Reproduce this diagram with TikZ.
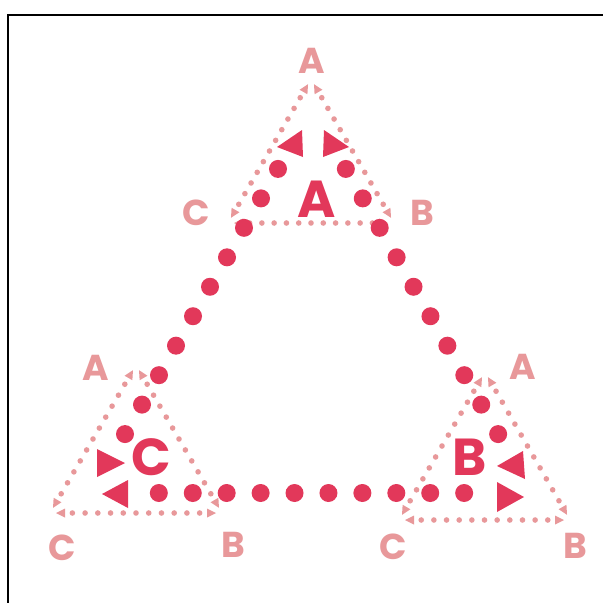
\documentclass[tikz,border=0pt]{standalone}
\usepackage{fontspec}
\setmainfont{Poppins}
\usetikzlibrary{calc}
\definecolor{dark}{HTML}{E2385A}
\definecolor{lite}{HTML}{E8989A}
\tikzset{
  lbl/.style={text=lite, font=\fontsize{36}{36}\selectfont\bfseries, inner sep=0pt},
  big/.style={text=dark, font=\fontsize{52}{52}\selectfont\bfseries, inner sep=0pt},
  frameline/.style={line width=2pt, draw=black},
  bigdot/.style={fill=dark},
  smalldot/.style={fill=lite},
  turn/.style={fill=dark}
}
\newcommand{\tipend}[2]{\fill[lite] ($(#1)!6pt!(#2)$) -- ($($(#1)!15pt!(#2)$)!4.5pt!90:(#2)$) -- ($($(#1)!15pt!(#2)$)!4.5pt!-90:(#2)$) -- cycle;}
\newcommand{\dside}[2]{%
  \tipend{#1}{#2}\tipend{#2}{#1}%
  \foreach \k in {0,...,10}{\fill[smalldot] ($(#1)!{0.13+\k*0.074}!(#2)$) circle[radius=2.8pt];}}
\begin{document}
\begin{tikzpicture}[x=1pt,y=-1pt]
\useasboundingbox (0,0) rectangle (603,603);
\fill[white] (-5,-5) rectangle (610,610);
\coordinate (f1) at (7.7,610);
\coordinate (f2) at (7.7,15.3);
\coordinate (f3) at (610,15.3);
\draw[frameline] (f1) -- (f2) -- (f3);
% small triangle A
\coordinate (a1) at (311,79);
\coordinate (a2) at (228,223);
\coordinate (a3) at (394,223);
\dside{a1}{a2}\dside{a2}{a3}\dside{a3}{a1}
% small triangle C
\coordinate (c1) at (136,365);
\coordinate (c2) at (50,513);
\coordinate (c3) at (222,513);
\dside{c1}{c2}\dside{c2}{c3}\dside{c3}{c1}
% small triangle B
\coordinate (b1) at (485,372);
\coordinate (b2) at (399,520);
\coordinate (b3) at (570,520);
\dside{b1}{b2}\dside{b2}{b3}\dside{b3}{b1}
% labels
\node[lbl] (la1) at (312,61) {A};
\node[lbl] (la2) at (196,213) {C};
\node[lbl] (la3) at (422,213) {B};
\node[lbl] (lc1) at (96,368) {A};
\node[lbl] (lc2) at (62,548) {C};
\node[lbl] (lc3) at (233,545) {B};
\node[lbl] (lb1) at (523,367) {A};
\node[lbl] (lb2) at (393,547) {C};
\node[lbl] (lb3) at (575,546) {B};
% big dotted triangle
\coordinate (T) at (312,110);
\coordinate (L) at (91,493);
\coordinate (R) at (532,493);
\foreach \k in {2,...,11}{
  \fill[bigdot] ($(T)!{\k/13}!(L)$) circle[radius=9pt];
  \fill[bigdot] ($(L)!{\k/13}!(R)$) circle[radius=9pt];
  \fill[bigdot] ($(R)!{\k/13}!(T)$) circle[radius=9pt];
}
% turn arrows
\fill[turn] (277,147) -- (302,130) -- (303,157) -- cycle;
\fill[turn] (349,147) -- (324,130) -- (323,157) -- cycle;
\fill[turn] (125,463) -- (97,449) -- (97,477) -- cycle;
\fill[turn] (102,494) -- (128,480) -- (128,508) -- cycle;
\fill[turn] (497,466) -- (523,451) -- (525,479) -- cycle;
\fill[turn] (524,497) -- (497,482) -- (497,512) -- cycle;
% big letters
\node[big] (bA) at (317,199) {A};
\node[big] (bC) at (151,457) {C};
\node[big] (bB) at (470,457) {B};
\end{tikzpicture}
\end{document}
